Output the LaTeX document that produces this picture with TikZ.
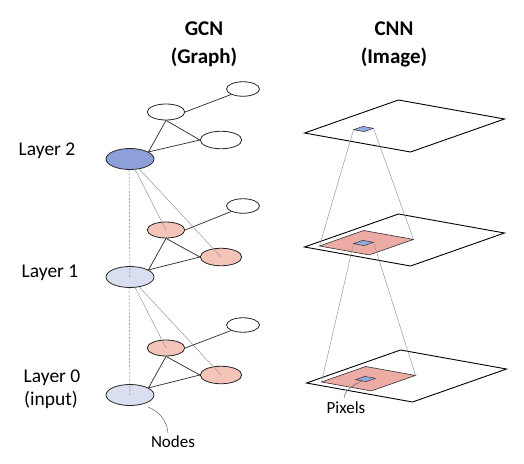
\documentclass[tikz,border=0pt]{standalone}
\usepackage{fontspec}
\setmainfont{Carlito}
\usetikzlibrary{shapes.geometric,calc}
\definecolor{bluedark}{RGB}{142,160,218}
\definecolor{bluelight}{RGB}{217,222,240}
\definecolor{pinknode}{RGB}{244,196,184}
\definecolor{pinksq}{RGB}{236,171,165}
\definecolor{bluesq}{RGB}{150,170,222}
\tikzset{
  gn/.style={ellipse, draw=black!85, line width=0.8pt, inner sep=0pt},
  gbig/.style={gn, minimum width=48pt, minimum height=21pt},
  gmid/.style={gn, minimum width=37.5pt, minimum height=16pt},
  grt/.style={gn, minimum width=41.5pt, minimum height=17.5pt},
  gsm/.style={gn, minimum width=33pt, minimum height=14.5pt, fill=white},
  edge/.style={draw=black!80, line width=0.75pt},
  vdash/.style={draw=black!55, line width=0.5pt, dash pattern=on 2pt off 1.5pt},
  proj/.style={draw=black!40, line width=0.5pt},
  plane/.style={draw=black, line width=0.9pt},
  head/.style={font=\fontsize{21}{25}\selectfont\bfseries, anchor=base, inner sep=0pt},
  lab/.style={font=\fontsize{19.5}{23}\selectfont, anchor=base, inner sep=0pt},
  small/.style={font=\fontsize{17}{20}\selectfont, anchor=base, inner sep=0pt},
  leader/.style={draw=black!60, line width=0.5pt}
}
\begin{document}
\begin{tikzpicture}[x=1pt,y=-1pt]
\useasboundingbox (0,0) rectangle (524,463);

% headers
\node[head] (gcn) at (204,35) {GCN};
\node[head] (graph) at (204,63) {(Graph)};
\node[head] (cnn) at (394,35) {CNN};
\node[head] (image) at (394,63) {(Image)};

% layer labels
\node[lab] (l2) at (47,155) {Layer 2};
\node[lab] (l1) at (50,277) {Layer 1};
\node[lab] (l0) at (52,382) {Layer 0};
\node[lab] (inp) at (51,405) {(input)};

% ---- GCN graph ----
% layer 2
\node[gbig, fill=bluedark] (b2) at (130,159) {};
\node[gmid, fill=white] (m2) at (166,112) {};
\node[grt, fill=white] (r2) at (221,140) {};
\node[gsm] (w2) at (243,89) {};
% layer 1
\node[gbig, fill=bluelight] (b1) at (130,277) {};
\node[gmid, fill=pinknode] (m1) at (166,230) {};
\node[grt, fill=pinknode] (r1) at (221,257) {};
\node[gsm] (w1) at (243,206) {};
% layer 0
\node[gbig, fill=bluelight] (b0) at (130,395) {};
\node[gmid, fill=pinknode] (m0) at (166,348) {};
\node[grt, fill=pinknode] (r0) at (221,375) {};
\node[gsm] (w0) at (243,325) {};

\foreach \k in {0,1,2}{
  \draw[edge] (m\k.east) -- (w\k.205);
  \draw[edge] (m\k.south) -- (r\k.west);
  \draw[edge] (m\k.south) -- (b\k.21);
  \draw[edge] (b\k.21) -- (r\k.west);
}

% projections between layers
\draw[vdash] (b2.-95) -- (b1.center);
\draw[proj] (b2.-64) -- (m1.center);
\draw[proj] (b2.-47) -- (r1.center);
\draw[vdash] (b1.-95) -- (b0.center);
\draw[proj] (b1.-64) -- (m0.center);
\draw[proj] (b1.-47) -- (r0.center);

% Nodes label
\node[small] (nodeslbl) at (173,447) {Nodes};
\coordinate (nstart) at (148,407);
\coordinate (nend) at (168,433);
\draw[leader] (nstart) .. controls (160,412) and (167,421) .. (nend);

% ---- CNN planes ----
\foreach \name/\lx/\ly in {top/304.5/133, mid/304.5/247, bot/306.5/383}{
  \begin{scope}[shift={(\lx,\ly)}]
    \coordinate (\name-A) at (0,0);
    \coordinate (\name-B) at (94,-33);
    \coordinate (\name-C) at (200,-14);
    \coordinate (\name-D) at (106,19);
    % pink receptive field
    \coordinate (\name-pA) at (15,-1);
    \coordinate (\name-pB) at ($(15,-1)+0.47*(94,-33)$);
    \coordinate (\name-pC) at ($(15,-1)+0.47*(200,-14)$);
    \coordinate (\name-pD) at ($(15,-1)+0.47*(106,19)$);
    % small pixel
    \coordinate (\name-q) at (59,-4);
    \coordinate (\name-qA) at ($(\name-q)+(-10,0.7)$);
    \coordinate (\name-qB) at ($(\name-q)+(-0.6,-2.6)$);
    \coordinate (\name-qC) at ($(\name-q)+(10,-0.7)$);
    \coordinate (\name-qD) at ($(\name-q)+(0.6,2.6)$);
  \end{scope}
}
\draw[plane] (top-A) -- (top-B) -- (top-C) -- (top-D) -- cycle;
\draw[plane] (mid-A) -- (mid-B) -- (mid-C) -- (mid-D) -- cycle;
\draw[plane] (bot-A) -- (bot-B) -- (bot-C) -- (bot-D) -- cycle;

\foreach \name in {mid,bot}{
  \fill[pinksq, draw=black!80, line width=0.6pt] (\name-pA) -- (\name-pB) -- (\name-pC) -- (\name-pD) -- cycle;
}
\foreach \name in {top,mid,bot}{
  \fill[bluesq, draw=black!80, line width=0.5pt] (\name-qA) -- (\name-qB) -- (\name-qC) -- (\name-qD) -- cycle;
}

\draw[proj] (top-qA) -- (mid-pA);
\draw[proj] (top-qC) -- (mid-pC);
\draw[proj] (mid-qA) -- (bot-pA);
\draw[proj] (mid-qC) -- (bot-pC);

% Pixels label
\node[small] (pixlbl) at (346,413) {Pixels};
\coordinate (pstart) at (362,381);
\coordinate (pend) at (344,398);
\draw[leader] (pstart) .. controls (353,385) and (345,390) .. (pend);
\end{tikzpicture}
\end{document}
